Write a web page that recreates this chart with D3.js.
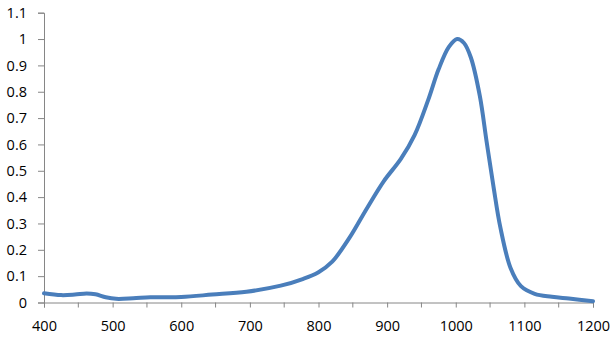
<!DOCTYPE html>
<html><head><meta charset="utf-8">
<script src="https://cdn.jsdelivr.net/npm/d3@7"></script>
<style>body{margin:0;background:#fff}svg{display:block}</style>
</head><body>
<svg id="c" width="616" height="344"></svg>
<script>
const wavelengths = [400,425,445,462,475,490,505,530,555,600,645,695,745,778,800,820,845,870,895,920,940,960,975,990,1002,1012,1022,1035,1045,1055,1065,1080,1095,1115,1140,1165,1200];
const values = [0.035,0.028,0.030,0.034,0.031,0.020,0.014,0.016,0.020,0.021,0.030,0.041,0.064,0.090,0.115,0.155,0.245,0.355,0.46,0.545,0.635,0.77,0.885,0.97,1.0,0.985,0.93,0.785,0.61,0.44,0.285,0.13,0.062,0.033,0.022,0.015,0.005];
const xTicks = [400,500,600,700,800,900,1000,1100,1200];
const xMinorTicks = [450,550,650,750,850,950,1050,1150];
const yTicks = [0,0.1,0.2,0.3,0.4,0.5,0.6,0.7,0.8,0.9,1,1.1];

const svg = d3.select("#c");
const L=44, R=593, T=12.7, B=302.5;
const x = d3.scaleLinear().domain([400,1200]).range([L,R]);
const y = d3.scaleLinear().domain([0,1.1]).range([B,T]);
const axisColor = "#868686";
const font = "'Open Sans', sans-serif";

const gy = svg.append("g").attr("transform",`translate(${L},0)`)
  .call(d3.axisLeft(y).tickValues(yTicks).tickSize(6).tickPadding(11)
    .tickFormat(d=>String(+d.toFixed(1))));
const gx = svg.append("g").attr("transform",`translate(0,${B})`)
  .call(d3.axisBottom(x).tickValues(xTicks).tickSize(5).tickPadding(13).tickFormat(d3.format("d")));
svg.append("g").attr("transform",`translate(0,${B})`)
  .selectAll("line").data(xMinorTicks).join("line")
  .attr("x1",d=>x(d)).attr("x2",d=>x(d)).attr("y1",0).attr("y2",5)
  .attr("stroke",axisColor);
[gx,gy].forEach(g=>{
  g.select(".domain").attr("stroke",axisColor);
  g.selectAll(".tick line").attr("stroke",axisColor);
  g.selectAll(".tick text").attr("fill","#000").style("font-family",font).style("font-size","14.5px");
});

svg.append("path").datum(wavelengths.map((w,i)=>[w,values[i]]))
  .attr("fill","none").attr("stroke","#4a7ebb").attr("stroke-width",4)
  .attr("stroke-linejoin","round").attr("stroke-linecap","round")
  .attr("d", d3.line().x(d=>x(d[0])).y(d=>y(d[1])).curve(d3.curveCatmullRom.alpha(0.5)));
</script>
</body></html>
